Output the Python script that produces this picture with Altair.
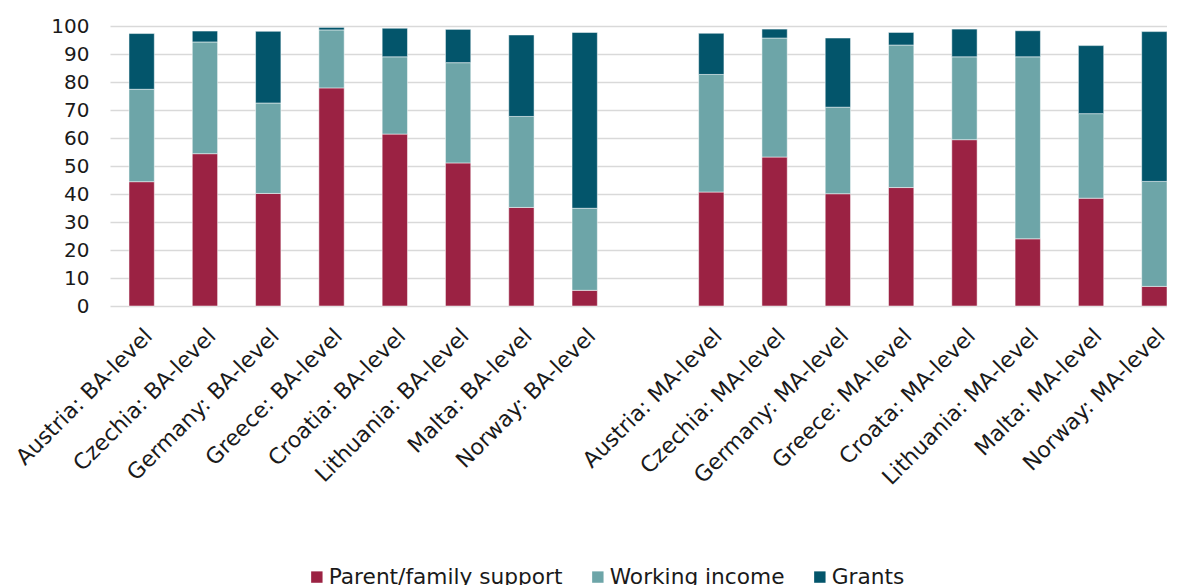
import altair as alt
import pandas as pd

categories = [
    "Austria: BA-level", "Czechia: BA-level", "Germany: BA-level", "Greece: BA-level",
    "Croatia: BA-level", "Lithuania: BA-level", "Malta: BA-level", "Norway: BA-level",
    " ",
    "Austria: MA-level", "Czechia: MA-level", "Germany: MA-level", "Greece: MA-level",
    "Croata: MA-level", "Lithuania: MA-level", "Malta: MA-level", "Norway: MA-level",
]
bar_categories = [c for c in categories if c.strip()]

family = [44.4, 54.4, 40.2, 77.9, 61.4, 51.1, 35.2, 5.6,
          40.7, 53.2, 40.1, 42.3, 59.4, 24.0, 38.5, 7.0]
working = [33.0, 39.9, 32.3, 20.7, 27.6, 35.8, 32.5, 29.3,
           42.0, 42.5, 30.9, 50.9, 29.6, 65.0, 30.2, 37.5]
grants = [19.9, 3.9, 25.6, 0.9, 10.2, 11.9, 29.1, 62.8,
          14.7, 3.2, 24.7, 4.5, 9.9, 9.3, 24.3, 53.5]

series = ["Parent/family support", "Working income", "Grants"]
colors = ["#9B2243", "#6DA5A8", "#03556B"]

rows = []
for vals, s, o in [(family, series[0], 0), (working, series[1], 1), (grants, series[2], 2)]:
    for c, v in zip(bar_categories, vals):
        rows.append({"cat": c, "series": s, "value": v, "ord": o})
df = pd.DataFrame(rows)

FONT = "DejaVu Sans"

chart = alt.Chart(df).mark_bar(stroke="#ffffff", strokeWidth=0.5).encode(
    x=alt.X("cat:N", sort=categories,
            scale=alt.Scale(domain=categories, paddingInner=0.6, paddingOuter=0.15, align=1),
            axis=alt.Axis(title=None, labelAngle=-45, labelAlign="right", labelBaseline="top",
                          labelPadding=19, labelOffset=0, labelFontSize=22, labelFont=FONT,
                          labelColor="#1a1a1a", ticks=False, domain=False, grid=False,
                          labelOverlap=False, labelLimit=0)),
    y=alt.Y("value:Q", stack="zero",
            scale=alt.Scale(domain=[0, 100], nice=False),
            axis=alt.Axis(title=None, values=list(range(0, 101, 10)), labelFontSize=20,
                          labelFont=FONT, labelColor="#1a1a1a", labelPadding=21,
                          ticks=False, domain=False, grid=True, gridColor="#D9D9D9",
                          gridWidth=1.5)),
    color=alt.Color("series:N", sort=series,
                    scale=alt.Scale(domain=series, range=colors),
                    legend=alt.Legend(title=None, orient="none", direction="horizontal",
                                      legendX=196, legendY=540, symbolType="square",
                                      symbolSize=130, symbolStrokeWidth=0,
                                      labelFontSize=21.7, labelFont=FONT, labelColor="#1a1a1a",
                                      labelOffset=1, columnPadding=24, labelLimit=0)),
    order=alt.Order("ord:Q"),
).properties(
    width=1057,
    height=280,
    autosize=alt.AutoSizeParams(type="none"),
    padding={"left": 102, "top": 18, "right": 0, "bottom": 279},
).configure_view(stroke=None)

chart.save("out.html", embed_options={"renderer": "svg", "actions": False})
